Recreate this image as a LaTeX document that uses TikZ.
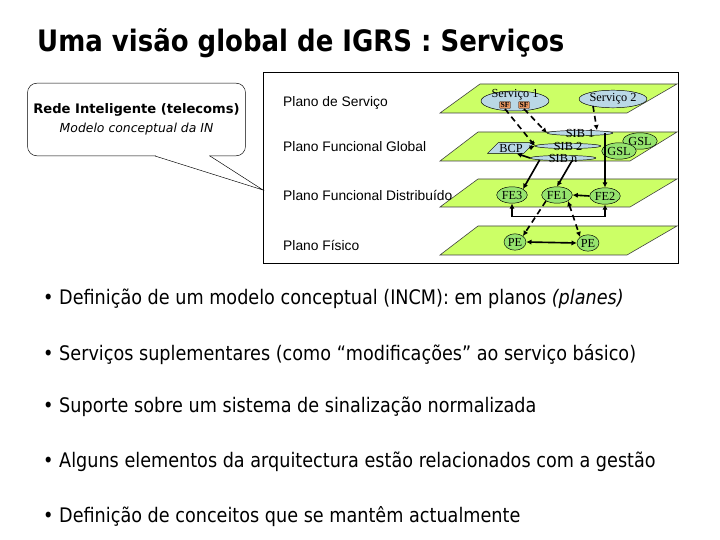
\documentclass[tikz,border=0pt]{standalone}
\usepackage{fontspec}
\setmainfont{Liberation Serif}
\newfontfamily\slidefont{DejaVu Sans}[FakeStretch=0.88]
\newfontfamily\boxfont{DejaVu Sans}
\newfontfamily\arialfont{Liberation Sans}
\usetikzlibrary{shapes.geometric,arrows.meta,calc}
\definecolor{planegreen}{RGB}{204,255,102}
\definecolor{bubbleblue}{RGB}{186,216,230}
\definecolor{fegreen}{RGB}{150,228,110}
\definecolor{sforange}{RGB}{232,150,96}

\begin{document}
\begin{tikzpicture}[
  x=0.03cm, y=-0.03cm,
  title/.style={font=\slidefont\bfseries\fontsize{25.2}{29}\selectfont, anchor=west, inner sep=0},
  bulletline/.style={font=\slidefont\fontsize{17.1}{20}\selectfont, anchor=base west, inner sep=0},
  plane/.style={draw=black!75, fill=planegreen, line width=0.5pt},
  planelbl/.style={font=\arialfont\fontsize{11.8}{14}\selectfont, anchor=west, inner sep=0},
  bubble/.style={ellipse, draw, fill=bubbleblue, inner sep=0.5pt, font=\fontsize{10.5}{12}\selectfont},
  sib/.style={bubble, minimum width=56pt, inner ysep=-2pt, minimum height=0pt},
  fe/.style={ellipse, draw, fill=fegreen, inner xsep=0.5pt, inner ysep=0pt, minimum height=14pt, font=\fontsize{10.5}{12}\selectfont},
  sficon/.style={draw=black!60, fill=sforange, rounded corners=1pt, inner sep=1pt, font=\bfseries\fontsize{6.5}{6.5}\selectfont},
  link/.style={line width=1.4pt, -{Latex[length=4.5pt,width=4.5pt]}},
  tlink/.style={line width=1.4pt, {Latex[length=4.5pt,width=4.5pt]}-{Latex[length=4.5pt,width=4.5pt]}},
  dlink/.style={link, dash pattern=on 5pt off 3.5pt},
  tdlink/.style={tlink, dash pattern=on 5pt off 3.5pt}
]
\useasboundingbox[fill=white] (0,0) rectangle (720,540);

\node[title] (title) at (37,43) {Uma visão global de IGRS : Serviços};

\draw[line width=0.8pt] (263,72) rectangle (678,263);
\filldraw[plane] (440,113) -- (480,84) -- (677,84) -- (627,113) -- cycle;
\filldraw[plane] (440,161) -- (478,132) -- (677,132) -- (630,161) -- cycle;
\filldraw[plane] (440,207) -- (478,179) -- (677,179) -- (630,207) -- cycle;
\filldraw[plane] (440,255) -- (478,226) -- (677,226) -- (627,255) -- cycle;

\node[planelbl] (lblsrv) at (283,103) {Plano de Serviço};
\node[planelbl] (lblglob) at (283,147) {Plano Funcional Global};
\node[planelbl] (lbldist) at (283,195) {Plano Funcional Distribuído};
\node[planelbl] (lblfis) at (283,245) {Plano Físico};

\node[bubble, minimum width=58pt, minimum height=17pt] (srv1) at (515,101) {};
\node[font=\fontsize{10.5}{12}\selectfont, inner sep=0] (srv1txt) at (515,95) {Serviço 1};
\node[sficon] (sf1) at (505,105) {SF};
\node[sficon] (sf2) at (524,105) {SF};
\node[bubble, minimum width=54pt, minimum height=15pt] (srv2) at (613,99) {Serviço 2};

\node[sib] (sib1) at (580,133) {SIB 1};
\node[sib] (sib2) at (568,146) {SIB 2};
\node[sib] (sibn) at (563,158) {SIB n};
\node[trapezium, trapezium left angle=45, trapezium right angle=135, draw, fill=bubbleblue,
  inner xsep=1pt, inner ysep=1pt, font=\fontsize{10.5}{12}\selectfont] (bcp) at (511,148) {BCP};
\node[fe] (gsl1) at (640,141) {GSL};
\node[fe] (gsl2) at (619,151) {GSL};

\node[fe] (fe3) at (512,195) {FE3};
\node[fe] (fe1) at (557,195) {FE1};
\node[fe] (fe2) at (605,196) {FE2};
\node[fe] (pe1) at (515,242) {PE};
\node[fe] (pe2) at (588,243) {PE};

\draw[dlink] (sf1.south) -- (sib2.west);
\draw[dlink] (sf2.south) -- (sib1.west);
\draw[dlink] ($(srv2.center)+(-20,7)$) -- ($(sib1.north)+(17,0)$);
\draw[link] (fe2 |- sib1) -- (fe2);
\draw[link] (bcp.east) -- (sib2.west);
\draw[link] (sibn.west) -- (bcp.south east);
\draw[link] (sibn.south west) -- (fe3.north east);
\draw[link] ($(sibn.south)+(9,0)$) -- (fe1.north);
\draw[link] (fe2.west) -- (fe1.east);
\draw[tlink] (fe3.south) -- ++(0,13) -| (fe2.south);
\draw[dlink] (fe1.south west) -- (pe1.north east);
\draw[tdlink] (fe1.south east) -- (pe2.north west);
\draw[tlink] (pe1.east) -- (pe2.west);

\node[draw, fill=white, rounded corners=8pt, minimum width=186pt, minimum height=62pt,
  align=center, font=\boxfont\fontsize{10.6}{16}\selectfont] (rede) at (136.5,119.5)
  {{\bfseries\fontsize{11.2}{16}\selectfont Rede Inteligente (telecoms)}\\\textit{Modelo conceptual da IN}};
\coordinate (tailtip) at (263,190);
\fill[white] (156,154) rectangle (209,158);
\draw (155,156) -- (tailtip) -- (210,156);

\node[bulletline] (b1) at (43,305) {• Definição de um modelo conceptual (INCM): em planos \textit{(planes)}};
\node[bulletline] (b2) at (43,360) {• Serviços suplementares (como “modificações” ao serviço básico)};
\node[bulletline] (b3) at (43,413) {• Suporte sobre um sistema de sinalização normalizada};
\node[bulletline] (b4) at (43,467) {• Alguns elementos da arquitectura estão relacionados com a gestão};
\node[bulletline] (b5) at (43,522) {• Definição de conceitos que se mantêm actualmente};
\end{tikzpicture}
\end{document}
